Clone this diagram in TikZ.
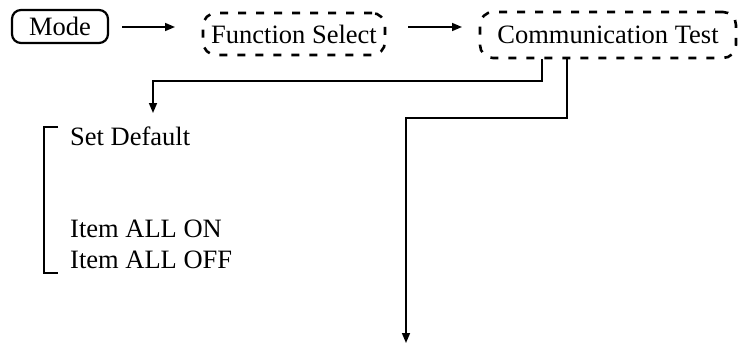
\documentclass[tikz,border=0pt]{standalone}
\usepackage{fontspec}
\setmainfont{Liberation Serif}
\usetikzlibrary{arrows.meta}
\begin{document}
\begin{tikzpicture}[x=1pt,y=1pt,
  txt/.style={font=\fontsize{26.5}{30}\selectfont, inner sep=0pt},
  solidbox/.style={txt, draw, line width=2.2pt, rounded corners=9pt},
  dashbox/.style={txt, draw, line width=2.6pt, rounded corners=13pt, dash pattern=on 8pt off 10pt},
  conn/.style={line width=1.6pt},
  arr/.style={conn, -{Triangle[length=10pt,width=8pt]}}]
\useasboundingbox (0,0) rectangle (739,-345);
\node[solidbox, minimum width=96pt, minimum height=33pt] (mode) at (60,-26.5) {Mode};
\node[dashbox, minimum width=182pt, minimum height=42pt] (fsel) at (294,-34) {Function Select};
\node[dashbox, minimum width=256pt, minimum height=46pt] (comm) at (608,-35) {Communication Test};
\coordinate (a1s) at (122,-27);
\coordinate (a1e) at (175,-27);
\coordinate (a2s) at (408,-27);
\coordinate (a2e) at (462,-27);
\draw[arr] (a1s) -- (a1e);
\draw[arr] (a2s) -- (a2e);
\coordinate (c1) at (542,-81);
\coordinate (e1) at (153,-113);
\coordinate (c2) at (567,-118);
\coordinate (e2) at (406,-343);
\draw[arr] (comm.south -| c1) -- (c1) -- (c1 -| e1) -- (e1);
\draw[arr] (comm.south -| c2) -- (c2) -- (c2 -| e2) -- (e2);
\draw[conn] (58,-127) -- (44,-127) -- (44,-273) -- (58,-273);
\node[txt, anchor=base west] (sd) at (70,-145) {Set Default};
\node[txt, anchor=base west] (on) at (70,-237) {Item ALL ON};
\node[txt, anchor=base west] (off) at (70,-268) {Item ALL OFF};
\end{tikzpicture}
\end{document}
